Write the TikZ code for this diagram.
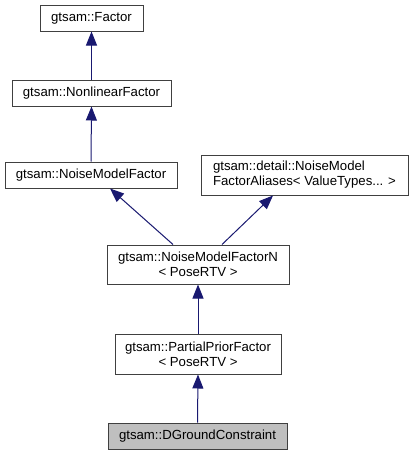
\documentclass[tikz,border=0pt]{standalone}
\usepackage{fontspec}
\setmainfont{Liberation Sans}
\usetikzlibrary{arrows.meta}
\definecolor{edgecol}{HTML}{191970}
\definecolor{boxline}{HTML}{404040}
\begin{document}
\begin{tikzpicture}[x=1pt,y=-1pt,
  cls/.style={draw=boxline,line width=1pt,fill=white,inner sep=0pt,align=center,
    font=\fontsize{13.2}{15}\selectfont},
  inh/.style={draw=edgecol,line width=1pt,-{Triangle[width=11pt,length=14pt,fill=edgecol]}}]
\useasboundingbox (0,0) rectangle (413,455);
\node[cls,minimum width=103pt,minimum height=26pt] (fac) at (91.5,18) {gtsam::Factor};
\node[cls,minimum width=159pt,minimum height=26pt] (nlf) at (91.5,93) {gtsam::NonlinearFactor};
\node[cls,minimum width=172pt,minimum height=26pt] (nmf) at (91,175) {gtsam::NoiseModelFactor};
\node[cls,minimum width=207pt,minimum height=40pt,align=left] (det) at (304.5,175) {gtsam::detail::NoiseModel\\FactorAliases< ValueTypes... >};
\node[cls,minimum width=182pt,minimum height=39pt] (nmfn) at (198,264.5) {gtsam::NoiseModelFactorN\\< PoseRTV >};
\node[cls,minimum width=166pt,minimum height=40pt] (ppf) at (198,354) {gtsam::PartialPriorFactor\\< PoseRTV >};
\node[cls,minimum width=179pt,minimum height=26pt,fill=black!25] (dgc) at (197.5,436) {gtsam::DGroundConstraint};
\draw[inh] (nlf.north) -- (fac.south);
\draw[inh] (nmf.north) -- (nlf.south);
\draw[inh] ([xshift=-25pt]nmfn.north) -- ([xshift=19pt]nmf.south);
\draw[inh] ([xshift=24pt]nmfn.north) -- ([xshift=-31.5pt]det.south);
\draw[inh] (ppf.north) -- (nmfn.south);
\draw[inh] (dgc.north) -- (ppf.south);
\end{tikzpicture}
\end{document}
